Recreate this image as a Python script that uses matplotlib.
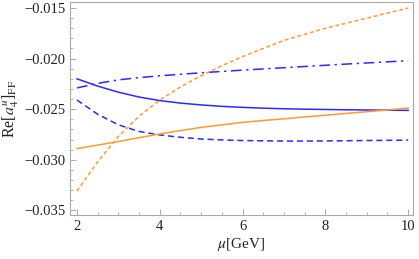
import numpy as np
import matplotlib
matplotlib.use("Agg")
import matplotlib.pyplot as plt
from matplotlib.ticker import MultipleLocator

# scale mu in GeV
mu = [2.0, 2.5, 3.0, 3.5, 4.0, 4.5, 5.0, 5.5, 6.0, 6.5, 7.0, 7.5, 8.0, 8.5, 9.0, 9.5, 10.0]

# blue curves
blue_solid = [-0.0220, -0.02272, -0.02332, -0.02380, -0.02415, -0.02440, -0.02458,
              -0.02472, -0.02482, -0.02490, -0.02496, -0.02500, -0.02503,
              -0.02506, -0.02508, -0.02510, -0.02512]
blue_dashdot = [-0.0229, -0.02245, -0.0221, -0.02188, -0.0217, -0.02155, -0.0214,
                -0.02127, -0.02114, -0.02102, -0.0209, -0.02078, -0.02066,
                -0.02054, -0.02043, -0.02032, -0.0202]
blue_dashed = [-0.0241, -0.0255, -0.02655, -0.0272, -0.02755, -0.02778, -0.02795,
               -0.02804, -0.0281, -0.02813, -0.02815, -0.02815, -0.02814,
               -0.02812, -0.0281, -0.02808, -0.02806]

# orange curves
orange_solid = [-0.0289, -0.02855, -0.0282, -0.02782, -0.02745, -0.02712, -0.0268,
                -0.02655, -0.0263, -0.02612, -0.02595, -0.02577, -0.0256,
                -0.02542, -0.02525, -0.02508, -0.0249]
orange_dashed = [-0.0331, -0.0302, -0.0277, -0.0257, -0.0241, -0.0228, -0.0217,
                 -0.0207, -0.0198, -0.0190, -0.0182, -0.0176, -0.0170,
                 -0.0165, -0.0160, -0.0155, -0.0150]

BLUE = "#2a2aff"
ORANGE = "#ff9a2e"

plt.rcParams["font.family"] = ["Liberation Serif", "DejaVu Serif"]
plt.rcParams["mathtext.fontset"] = "stix"

fig = plt.figure(figsize=(4.19, 2.59), dpi=100)
ax = fig.add_axes([0.167, 0.170, 0.819, 0.822])

ax.plot(mu, blue_solid, color=BLUE, lw=1.1)
ax.plot(mu, blue_dashdot, color=BLUE, lw=1.1, dashes=(7, 3, 1.5, 3))
ax.plot(mu, blue_dashed, color=BLUE, lw=1.1, dashes=(4, 2.5))
ax.plot(mu, orange_solid, color=ORANGE, lw=1.1)
ax.plot(mu, orange_dashed, color=ORANGE, lw=1.1, dashes=(2.5, 1.8))

ax.set_xlim(1.83, 10.12)
ax.set_ylim(-0.03546, -0.01441)

ax.xaxis.set_major_locator(MultipleLocator(2))
ax.xaxis.set_minor_locator(MultipleLocator(0.5))
ax.yaxis.set_major_locator(MultipleLocator(0.005))
ax.yaxis.set_minor_locator(MultipleLocator(0.001))
ax.yaxis.set_major_formatter(plt.FuncFormatter(lambda v, p: "\u2212%.3f" % abs(v)))

grey = "#aaaaaa"
for s in ax.spines.values():
    s.set_color(grey)
    s.set_linewidth(0.8)
ax.tick_params(which="both", direction="in", color=grey, labelsize=10.5,
               labelcolor="#222222", top=False, right=False)
ax.tick_params(which="major", length=4, width=0.7)
ax.tick_params(which="minor", length=2, width=0.6)

ax.set_xlabel(r"$\mu$[GeV]", fontsize=11, color="#222222", labelpad=2)
ax.set_ylabel(r"Re[$a_4^u$]$_{\rm FF}$", fontsize=11.5, color="#222222", labelpad=2)

fig.savefig("out.png", dpi=100)
